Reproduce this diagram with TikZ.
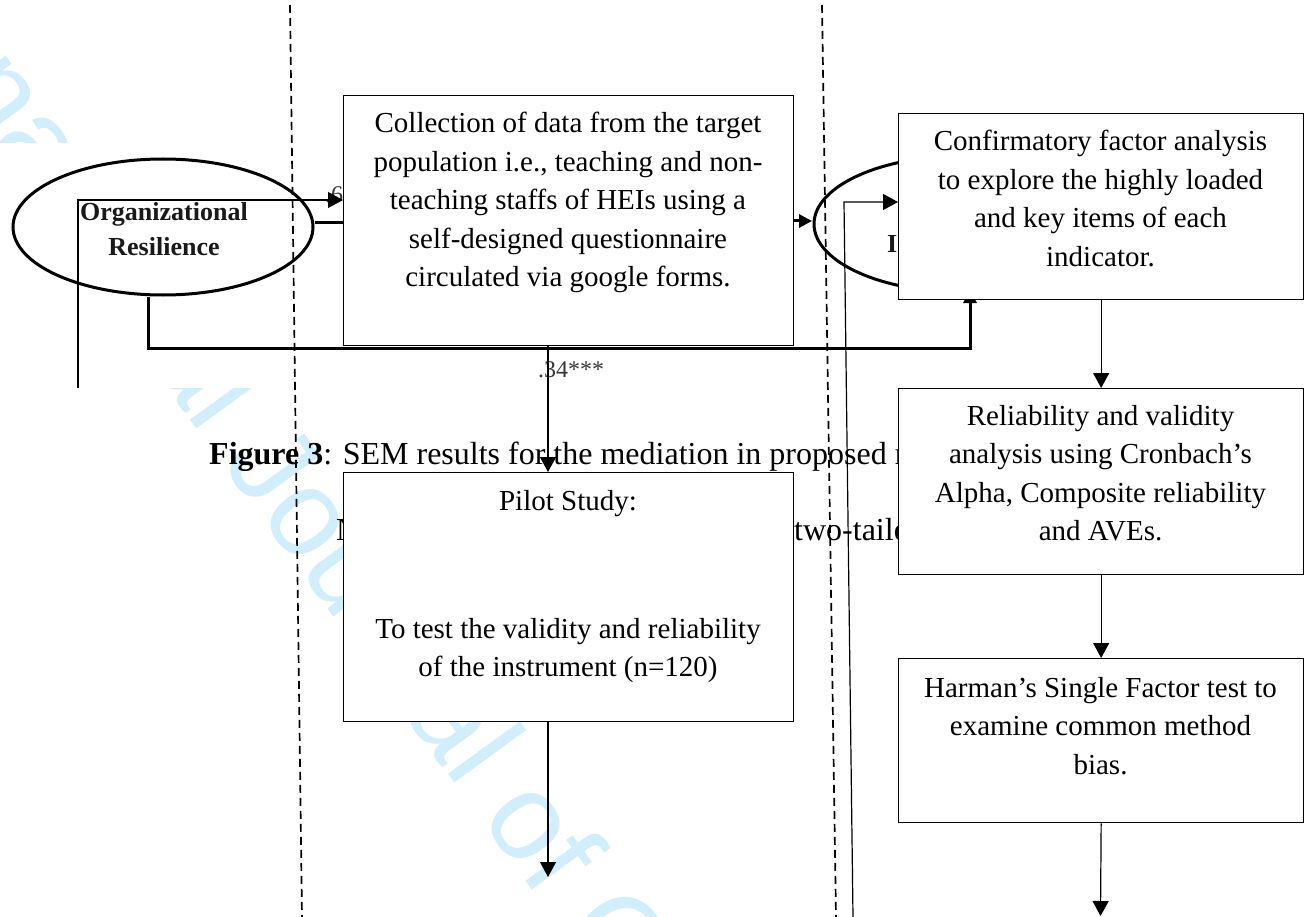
\documentclass[tikz,border=0pt]{standalone}
\usepackage{fontspec}
\setmainfont{Liberation Serif}
\newfontfamily\wmfont{Liberation Sans}
\usetikzlibrary{arrows.meta,shapes.geometric}
\definecolor{wmblue}{RGB}{208,238,252}
\definecolor{semgray}{RGB}{55,55,55}
\begin{document}
\begin{tikzpicture}[x=1pt,y=-1pt,
  box/.style={draw=black, line width=1.3pt, fill=white, anchor=north west, inner sep=0pt},
  boxtext/.style={anchor=north, align=center, inner sep=0pt, font=\fontsize{29}{38.5}\selectfont},
  flow/.style={line width=1.2pt, -{Triangle[length=15pt,width=16pt]}},
  sem/.style={line width=3pt},
  semarrow/.style={line width=3pt, -{Triangle[length=13pt,width=13pt]}},
  semlabel/.style={inner sep=0pt, text=semgray, font=\fontsize{24}{28}\selectfont},
  semname/.style={inner sep=0pt, align=center, text=black!90, font=\fontsize{26}{35}\selectfont\bfseries},
  caption/.style={inner sep=0pt, anchor=base west, font=\fontsize{32}{38}\selectfont},
  dashline/.style={line width=1.7pt, dash pattern=on 8pt off 5pt},
  watermark/.style={inner sep=0pt, text=wmblue, font=\wmfont\fontsize{123}{130}\selectfont}
]
\clip (0,0) rectangle (1313,917);
\fill[white] (0,0) rectangle (1313,917);

% watermark
\node[watermark, rotate=-54, anchor=base west] (wm) at (-196,-112) {International Journal of C};

% white background of the SEM figure
\fill[white] (0,143) rectangle (1313,388);

% SEM figure
\node[draw, ellipse, line width=3pt, inner sep=0pt, minimum width=300pt, minimum height=136pt] (orgres) at (163,227) {};
\node[semname, anchor=north] (orgtxt) at (164,202) {Organizational\\Resilience};
\node[draw, ellipse, line width=3pt, inner sep=0pt, minimum width=296pt, minimum height=136pt] (ellb) at (962,224) {};
\node[semname, anchor=base west] (elltxt) at (887,252) {I};
\node[semlabel, anchor=base west] (lblsix) at (325,203) {.6};
\node[semlabel, anchor=base west] (lblthree) at (538,377) {.34***};

\coordinate (semturn) at (970,348);
\coordinate (semtip) at (970,290);
\coordinate (ellbin) at (812,221);
\coordinate (bonein) at (343,223);
\draw[sem] ([yshift=4pt]orgres.east) -- (bonein);
\draw[semarrow] (793,221) -- (ellbin);
\draw[semarrow] ([xshift=-15pt]orgres.south) |- (semturn) -- (semtip);

\coordinate (sl) at (78,388);
\coordinate (sr) at (853,917);
\coordinate (srt) at (844,202);

% caption
\node[caption] (cap1) at (209,464) {\textbf{Figure 3}: SEM results for the mediation in proposed model};
\node[caption] (cap2a) at (336,540) {N};
\node[caption] (cap2b) at (794,540) {two-tailed};

% flowchart boxes
\node[box, minimum width=450pt, minimum height=250pt] (b1) at (343,95) {};
\node[boxtext] (b1t) at (568,112) {Collection of data from the target\\population i.e., teaching and non-\\teaching staffs of HEIs using a\\self-designed questionnaire\\circulated via google forms.};

\node[box, minimum width=450pt, minimum height=249pt] (pilot) at (343,472) {};
\node[boxtext] (pilott) at (568,490) {Pilot Study:};
\node[boxtext] (pilott2) at (568,618) {To test the validity and reliability\\of the instrument (n=120)};

\node[box, minimum width=405pt, minimum height=186pt] (cfa) at (898,113) {};
\node[boxtext] (cfat) at (1100.5,130) {Confirmatory factor analysis\\to explore the highly loaded\\and key items of each\\indicator.};

\node[box, minimum width=405pt, minimum height=186pt] (rel) at (898,388) {};
\node[boxtext] (relt) at (1100.5,405) {Reliability and validity\\analysis using Cronbach’s\\Alpha, Composite reliability\\and AVEs.};

\node[box, minimum width=405pt, minimum height=164pt] (harman) at (898,658) {};
\node[boxtext] (harmant) at (1100.5,677) {Harman’s Single Factor test to\\examine common method\\bias.};

% thin connectors from the SEM figure
\draw[flow] (sl) |- (b1.west |- 0,200);
\draw[flow] (sr) -- (srt) -- (cfa.west |- srt);

% flowchart arrows
\coordinate (ax) at (548,0);
\coordinate (pend) at (548,877);
\coordinate (hend) at (1100.5,916);
\draw[flow] (b1.south -| ax) -- (pilot.north -| ax);
\draw[flow] (pilot.south -| ax) -- (pend);
\draw[flow] (cfa.south) -- (rel.north);
\draw[flow] (rel.south) -- (harman.north);
\draw[flow] (harman.south) -- (hend);

% dashed separators
\coordinate (dla) at (290,5);
\coordinate (dlb) at (302,917);
\coordinate (dra) at (822,5);
\coordinate (drb) at (836,917);
\draw[dashline] (dla) -- (dlb);
\draw[dashline] (dra) -- (drb);
\end{tikzpicture}
\end{document}
